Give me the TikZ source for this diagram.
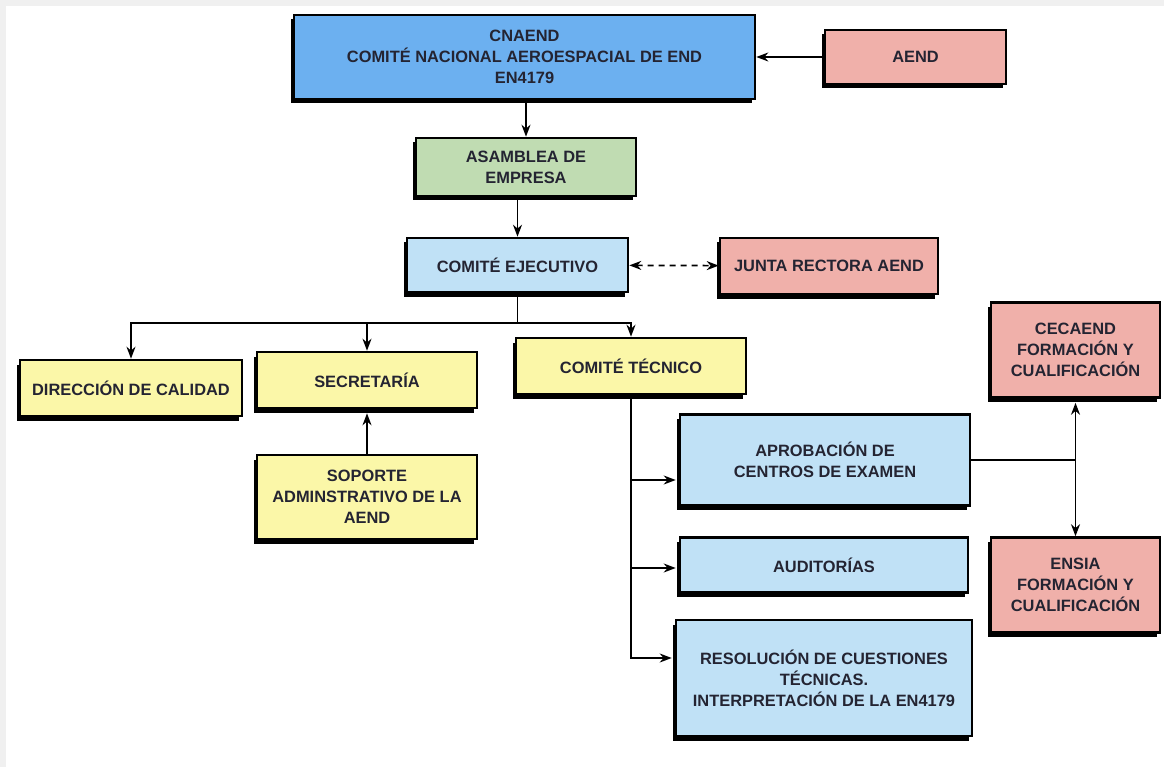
\documentclass[tikz,border=0pt]{standalone}
\usepackage{fontspec}
\setmainfont{Liberation Sans}
\usepackage{tikz}
\usetikzlibrary{arrows.meta,shadows,positioning}

\definecolor{cnblue}{RGB}{108,176,240}
\definecolor{ltblue}{RGB}{192,225,246}
\definecolor{ltgreen}{RGB}{192,220,178}
\definecolor{ltpink}{RGB}{240,176,170}
\definecolor{ltyellow}{RGB}{251,247,168}
\definecolor{txtgray}{RGB}{36,36,50}
\definecolor{pagegray}{RGB}{240,240,240}

\begin{document}
\begin{tikzpicture}[x=1pt,y=-1pt,
    box/.style={draw,line width=2.6pt,inner sep=0pt,align=center,text=txtgray,
      font=\fontsize{16.4}{21}\selectfont\bfseries,
      drop shadow={shadow xshift=-3.5pt,shadow yshift=-4.5pt,fill=black,opacity=1}},
    arr/.style={line width=1.7pt,-{Stealth[length=12pt,width=9pt]}},
    arrr/.style={line width=1.7pt,{Stealth[length=12pt,width=9pt]}-{Stealth[length=12pt,width=9pt]}},
    ln/.style={line width=1.7pt}]
  \fill[pagegray] (0,0) rectangle (1164,767);
  \fill[white] (6,6) rectangle (1164,767);
  \useasboundingbox (0,0) rectangle (1164,767);
  % upper part
  \node[box,fill=cnblue,minimum width=461,minimum height=84] (cnaend) at (524.5,57)
    {CNAEND\\COMITÉ NACIONAL AEROESPACIAL DE END\\EN4179};
  \node[box,fill=ltpink,minimum width=181,minimum height=54] (aend) at (915.5,57) {AEND};
  \node[box,fill=ltgreen,minimum width=220,minimum height=58] (asamblea) at (526,167)
    {ASAMBLEA DE\\EMPRESA};
  \node[box,fill=ltblue,minimum width=221,minimum height=54] (ejecutivo) at (517.5,265)
    {COMITÉ EJECUTIVO};
  \node[box,fill=ltpink,minimum width=218,minimum height=56] (junta) at (829,266)
    {JUNTA RECTORA AEND};
  % second level
  \node[box,fill=ltyellow,minimum width=222,minimum height=56] (direccion) at (131,388)
    {DIRECCIÓN DE CALIDAD};
  \node[box,fill=ltyellow,minimum width=220,minimum height=56] (secretaria) at (367,380)
    {SECRETARÍA};
  \node[box,fill=ltyellow,minimum width=230,minimum height=56] (tecnico) at (631,366)
    {COMITÉ TÉCNICO};
  \node[box,fill=ltyellow,minimum width=220,minimum height=84] (soporte) at (367,497)
    {SOPORTE\\ADMINSTRATIVO DE LA\\AEND};
  % comite tecnico
  \node[box,fill=ltblue,minimum width=290,minimum height=91] (aprobacion) at (825,460)
    {APROBACIÓN DE\\CENTROS DE EXAMEN};
  \node[box,fill=ltblue,minimum width=288,minimum height=55] (auditorias) at (824,565)
    {AUDITORÍAS};
  \node[box,fill=ltblue,minimum width=296,minimum height=116] (resolucion) at (824,678)
    {RESOLUCIÓN DE CUESTIONES\\TÉCNICAS.\\INTERPRETACIÓN DE LA EN4179};
  \node[box,fill=ltpink,minimum width=169,minimum height=95] (cecaend) at (1075.5,350)
    {CECAEND\\FORMACIÓN Y\\CUALIFICACIÓN};
  \node[box,fill=ltpink,minimum width=169,minimum height=95] (ensia) at (1075.5,585)
    {ENSIA\\FORMACIÓN Y\\CUALIFICACIÓN};

  \coordinate (split) at (ejecutivo.south |- 0,323);
  \coordinate (fork) at (cecaend.south |- aprobacion.east);

  \draw[arr] (aend) -- (cnaend);
  \draw[arr] (asamblea.north |- cnaend.south) -- (asamblea.north);
  \draw[arr] (ejecutivo.north |- asamblea.south) -- (ejecutivo.north);
  \draw[arrr,dashed,dash pattern=on 6pt off 5pt] (ejecutivo) -- (junta);
  \draw[ln] (ejecutivo.south) -- (split);
  \draw[arr] (split) -| (direccion.north);
  \draw[arr] (split) -| (secretaria.north);
  \draw[arr] (split) -| (tecnico.north);
  \draw[arr,shorten >=4pt] (soporte) -- (secretaria);
  \draw[arr,shorten >=3pt] (tecnico.south) |- ([yshift=-20pt]aprobacion.west);
  \draw[arr,shorten >=3pt] (tecnico.south) |- ([yshift=-3pt]auditorias.west);
  \draw[arr,shorten >=3pt] (tecnico.south) |- ([yshift=20pt]resolucion.west);
  \draw[ln] (aprobacion.east) -- (fork);
  \draw[arr,shorten >=4pt] (fork) -- (cecaend.south);
  \draw[arr] (fork) -- (ensia.north);
\end{tikzpicture}
\end{document}
